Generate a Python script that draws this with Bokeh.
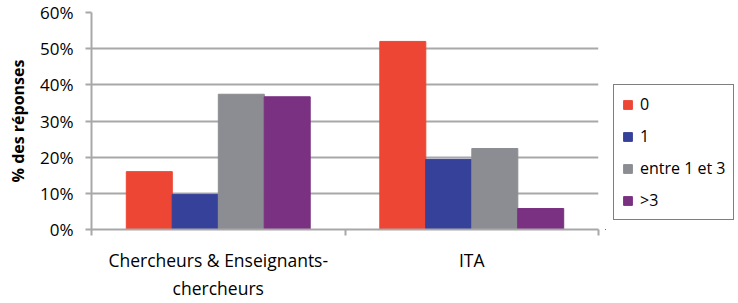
from bokeh.plotting import figure
from bokeh.models import ColumnDataSource, FixedTicker, Legend, LegendItem, Range1d
from bokeh.layouts import row
from bokeh.transform import dodge
from bokeh.embed import file_html
from bokeh.resources import INLINE

categories = ["Chercheurs & Enseignants-\nchercheurs", "ITA"]
series = ["0", "1", "entre 1 et 3", ">3"]
v0 = [0.16, 0.52]
v1 = [0.097, 0.194]
v2 = [0.374, 0.224]
v3 = [0.367, 0.058]
colors = ["#EE4634", "#36419A", "#8C8D92", "#7A3182"]
yticks = [0, 0.1, 0.2, 0.3, 0.4, 0.5, 0.6]

xpos = [i + 0.5 for i in range(len(categories))]
src = ColumnDataSource(dict(x=xpos, v0=v0, v1=v1, v2=v2, v3=v3))
cols = ["v0", "v1", "v2", "v3"]

FONT = "Open Sans"
GRID = "#A8A8A8"

p = figure(width=605, height=303, output_backend="svg", toolbar_location=None,
           x_range=Range1d(0, len(categories)), y_range=Range1d(0, 0.6),
           min_border_left=91, min_border_right=7, min_border_top=12, min_border_bottom=71)
p.outline_line_color = None
p.background_fill_color = "white"

offsets = [-0.272, -0.091, 0.091, 0.272]
bw = 0.1815
for i, col in enumerate(cols):
    p.vbar(x=dodge("x", offsets[i]), top=col, width=bw, source=src,
           fill_color=colors[i], line_color=colors[i])

# y axis
p.yaxis.ticker = FixedTicker(ticks=yticks)
p.yaxis.major_label_overrides = {t: f"{int(round(t*100))}%" for t in yticks}
p.yaxis.axis_label = "% des réponses"
p.yaxis.axis_label_text_font = FONT
p.yaxis.axis_label_text_font_style = "bold"
p.yaxis.axis_label_text_font_size = "16px"
p.yaxis.axis_label_text_color = "black"
p.yaxis.axis_label_standoff = 8
p.yaxis.major_label_text_font = FONT
p.yaxis.major_label_text_font_size = "17px"
p.yaxis.major_label_text_color = "black"
p.yaxis.major_label_standoff = 12
p.yaxis.axis_line_color = GRID
p.yaxis.axis_line_width = 2
p.yaxis.major_tick_line_color = GRID
p.yaxis.major_tick_line_width = 2
p.yaxis.major_tick_out = 6
p.yaxis.major_tick_in = 0
p.yaxis.minor_tick_line_color = None

# x axis
p.xaxis.ticker = FixedTicker(ticks=xpos, minor_ticks=list(range(len(categories) + 1)))
p.xaxis.major_label_overrides = {x: c for x, c in zip(xpos, categories)}
p.xaxis.major_label_text_font = FONT
p.xaxis.major_label_text_font_size = "17.5px"
p.xaxis.major_label_text_color = "black"
p.xaxis.major_label_text_line_height = 1.2
p.xaxis.major_label_standoff = 12
p.xaxis.axis_line_color = GRID
p.xaxis.axis_line_width = 2
p.xaxis.major_tick_line_color = None
p.xaxis.minor_tick_line_color = GRID
p.xaxis.minor_tick_line_width = 2
p.xaxis.minor_tick_out = 6
p.xaxis.minor_tick_in = 0

p.xgrid.grid_line_color = None
p.ygrid.grid_line_color = GRID
p.ygrid.grid_line_width = 2

# legend panel (its renderers sit outside its visible range; only the legend shows)
lp = figure(width=133, height=303, output_backend="svg", toolbar_location=None,
            x_axis_type=None, y_axis_type=None,
            x_range=Range1d(100, 101), y_range=Range1d(100, 101),
            min_border_left=0, min_border_right=0, min_border_top=0, min_border_bottom=0)
lp.outline_line_color = None
lp.grid.grid_line_color = None
lrs = [lp.vbar(x="x", top=col, width=bw, source=src, fill_color=c, line_color=c)
       for col, c in zip(cols, colors)]

legend = Legend(items=[LegendItem(label=s, renderers=[r]) for s, r in zip(series, lrs)],
                location=(8, 9))
legend.label_text_font = FONT
legend.label_text_font_size = "16px"
legend.label_text_color = "black"
legend.label_height = 20
legend.glyph_height = 11
legend.glyph_width = 11
legend.label_standoff = 7
legend.spacing = 10
legend.padding = 8
legend.margin = 0
legend.border_line_color = "black"
legend.border_line_width = 1.5
legend.background_fill_color = "white"
legend.background_fill_alpha = 1
lp.add_layout(legend, "center")

layout = row(p, lp, spacing=0)
open("out.html", "w").write(file_html(layout, INLINE))
